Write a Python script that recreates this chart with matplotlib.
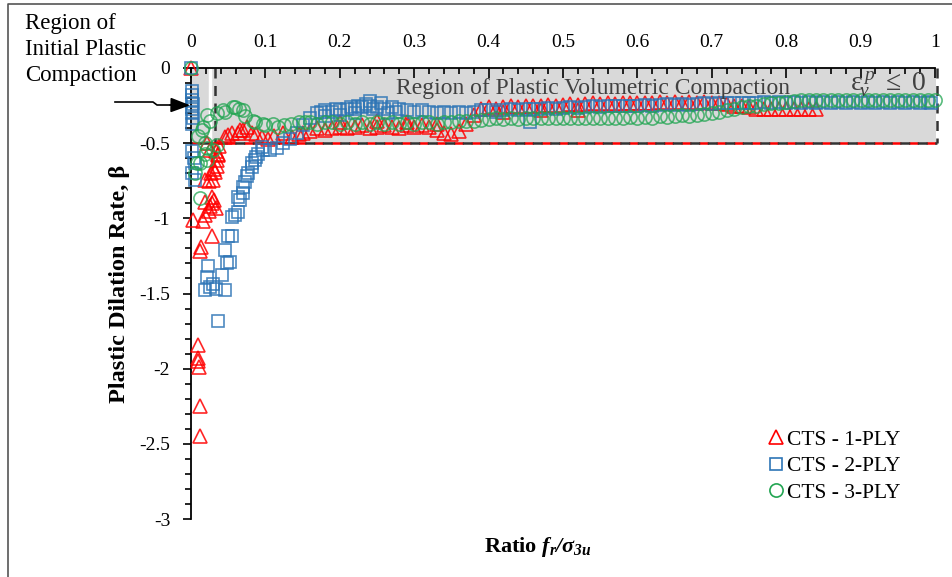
import matplotlib
matplotlib.use('Agg')
import matplotlib.pyplot as plt
from matplotlib.lines import Line2D

plt.rcParams['font.family'] = ['Liberation Serif', 'DejaVu Serif']
plt.rcParams['mathtext.fontset'] = 'custom'
plt.rcParams['mathtext.rm'] = 'Liberation Serif'
plt.rcParams['mathtext.it'] = 'Liberation Serif:italic'
plt.rcParams['mathtext.bf'] = 'Liberation Serif:bold:italic'
plt.rcParams['mathtext.fallback'] = 'stix'

# CTS - 1-PLY (red triangles)
x1 = [0.0, 0.012, 0.012, 0.011, 0.010, 0.010, 0.009,
      0.003, 0.013, 0.012, 0.016, 0.028, 0.019, 0.024,
      0.019, 0.026, 0.028, 0.031, 0.033, 0.028,
      0.019, 0.024, 0.030, 0.027, 0.032, 0.031, 0.035, 0.035, 0.036, 0.026, 0.036, 0.033,
      0.022, 0.038,
      0.046, 0.050, 0.055, 0.063, 0.066, 0.070, 0.075, 0.082, 0.088, 0.095, 0.103, 0.112,
      0.124, 0.136, 0.145,
      0.15, 0.16, 0.17, 0.18, 0.19, 0.20, 0.21, 0.22, 0.23, 0.24, 0.25, 0.26, 0.27, 0.28,
      0.29, 0.30, 0.31, 0.32, 0.33, 0.34, 0.35, 0.36, 0.37, 0.38, 0.39, 0.40, 0.41, 0.42,
      0.43, 0.44, 0.45, 0.46, 0.47, 0.48, 0.49, 0.50, 0.51, 0.52, 0.53, 0.54, 0.55, 0.56,
      0.57, 0.58, 0.59, 0.60, 0.61, 0.62, 0.63, 0.64, 0.65, 0.66, 0.67, 0.68, 0.69, 0.70,
      0.71, 0.72, 0.73, 0.74, 0.75, 0.76, 0.77, 0.78, 0.79, 0.80, 0.81, 0.82, 0.83, 0.84,
      0.20, 0.25, 0.29, 0.33, 0.42, 0.47, 0.52]
y1 = [0.0, -2.45, -2.25, -1.99, -1.95, -1.93, -1.84,
      -1.01, -1.19, -1.22, -1.02, -1.12, -0.98, -0.95,
      -0.89, -0.92, -0.90, -0.88, -0.93, -0.86,
      -0.745, -0.75, -0.745, -0.70, -0.69, -0.67, -0.65, -0.61, -0.58, -0.545, -0.57, -0.55,
      -0.50, -0.52,
      -0.46, -0.445, -0.43, -0.43, -0.41, -0.41, -0.39, -0.43, -0.44, -0.46, -0.47, -0.45,
      -0.43, -0.46, -0.44,
      -0.43, -0.42, -0.40, -0.41, -0.40, -0.39, -0.40, -0.39, -0.38, -0.40, -0.39, -0.38, -0.39, -0.40,
      -0.38, -0.39, -0.38, -0.39, -0.41, -0.43, -0.44, -0.42, -0.37, -0.31, -0.27, -0.26, -0.27, -0.26,
      -0.255, -0.26, -0.25, -0.255, -0.25, -0.245, -0.25, -0.245, -0.24, -0.245, -0.24, -0.235, -0.24, -0.235,
      -0.24, -0.23, -0.235, -0.23, -0.235, -0.23, -0.225, -0.23, -0.225, -0.23, -0.225, -0.23, -0.225, -0.23,
      -0.235, -0.24, -0.25, -0.255, -0.26, -0.27, -0.27, -0.275, -0.275, -0.27, -0.275, -0.27, -0.275, -0.27,
      -0.36, -0.355, -0.36, -0.37, -0.29, -0.28, -0.28]

# CTS - 2-PLY (blue squares)
x2 = [0.0, 0.001, 0.002, 0.001, 0.003, 0.002, 0.001, 0.003, 0.002,
      0.002, 0.005, 0.002, 0.005, 0.004,
      0.023, 0.021, 0.019, 0.026, 0.030, 0.033, 0.042, 0.046, 0.036, 0.052, 0.048, 0.046,
      0.050, 0.055, 0.055, 0.059, 0.063, 0.063, 0.066, 0.070, 0.070, 0.073, 0.075, 0.077,
      0.082, 0.082, 0.086, 0.088, 0.090, 0.095, 0.097, 0.106, 0.116, 0.124, 0.133,
      0.142, 0.151, 0.160, 0.169, 0.175, 0.18, 0.19, 0.195, 0.20, 0.21, 0.215, 0.22, 0.225,
      0.23, 0.235, 0.24, 0.245, 0.25, 0.26, 0.27, 0.28, 0.29, 0.30, 0.31, 0.32, 0.33, 0.34,
      0.35, 0.36, 0.37, 0.38, 0.39, 0.40, 0.41, 0.42, 0.43, 0.44, 0.45, 0.456, 0.46, 0.47,
      0.48, 0.49, 0.50, 0.51, 0.52, 0.53, 0.54, 0.55, 0.56, 0.57, 0.58, 0.59, 0.60, 0.61,
      0.62, 0.63, 0.64, 0.65, 0.66, 0.67, 0.68, 0.69, 0.70, 0.71, 0.72, 0.73, 0.74, 0.75,
      0.76, 0.77, 0.78, 0.79, 0.80, 0.81, 0.82, 0.83, 0.84, 0.85, 0.86, 0.87, 0.88, 0.89,
      0.90, 0.91, 0.92, 0.93, 0.94, 0.95, 0.96, 0.97, 0.98, 0.99, 0.995,
      0.18, 0.20, 0.22, 0.24, 0.255, 0.265, 0.275]
y2 = [0.0, -0.15, -0.18, -0.21, -0.24, -0.27, -0.30, -0.33, -0.37,
      -0.55, -0.63, -0.70, -0.745, -0.60,
      -1.32, -1.39, -1.48, -1.46, -1.44, -1.47, -1.38, -1.48, -1.68, -1.29, -1.30, -1.21,
      -1.12, -1.12, -0.99, -0.98, -0.96, -0.86, -0.88, -0.83, -0.79, -0.76, -0.72, -0.70,
      -0.66, -0.63, -0.61, -0.59, -0.57, -0.525, -0.545, -0.545, -0.53, -0.50, -0.47,
      -0.43, -0.38, -0.33, -0.30, -0.29, -0.28, -0.29, -0.27, -0.28, -0.27, -0.26, -0.27, -0.25,
      -0.26, -0.24, -0.25, -0.27, -0.26, -0.27, -0.26, -0.27, -0.28, -0.29, -0.28, -0.29, -0.30, -0.29,
      -0.30, -0.29, -0.30, -0.29, -0.28, -0.28, -0.29, -0.28, -0.275, -0.28, -0.27, -0.36, -0.275, -0.27,
      -0.265, -0.27, -0.265, -0.26, -0.265, -0.26, -0.255, -0.26, -0.255, -0.25, -0.255, -0.25, -0.25, -0.245,
      -0.25, -0.245, -0.24, -0.245, -0.24, -0.245, -0.24, -0.235, -0.24, -0.235, -0.23, -0.235, -0.23, -0.235,
      -0.23, -0.225, -0.23, -0.225, -0.23, -0.225, -0.23, -0.225, -0.23, -0.225, -0.23, -0.225, -0.23, -0.225,
      -0.23, -0.225, -0.23, -0.225, -0.23, -0.225, -0.23, -0.225, -0.23, -0.225, -0.23,
      -0.32, -0.31, -0.30, -0.22, -0.23, -0.30, -0.29]

# CTS - 3-PLY (green circles)
x3 = [0.0, 0.012, 0.005, 0.008, 0.012, 0.021, 0.019, 0.021, 0.030, 0.035, 0.019, 0.016,
      0.015, 0.010, 0.026, 0.021, 0.035, 0.043, 0.046, 0.056, 0.059, 0.065, 0.070, 0.073,
      0.083, 0.086, 0.097, 0.10, 0.11, 0.117, 0.125, 0.135, 0.145, 0.153,
      0.16, 0.17, 0.18, 0.19, 0.20, 0.21, 0.22, 0.23, 0.24, 0.25, 0.26, 0.27, 0.28, 0.29,
      0.30, 0.31, 0.32, 0.33, 0.34, 0.35, 0.36, 0.37, 0.38, 0.39, 0.40, 0.41, 0.42, 0.43,
      0.44, 0.45, 0.46, 0.47, 0.48, 0.49, 0.50, 0.51, 0.52, 0.53, 0.54, 0.55, 0.56, 0.57,
      0.58, 0.59, 0.60, 0.61, 0.62, 0.63, 0.64, 0.65, 0.66, 0.67, 0.68, 0.69, 0.70, 0.71,
      0.72, 0.73, 0.74, 0.75, 0.76, 0.77, 0.78, 0.79, 0.80, 0.81, 0.82, 0.83, 0.84, 0.85,
      0.86, 0.87, 0.88, 0.89, 0.90, 0.91, 0.92, 0.93, 0.94, 0.95, 0.96, 0.97, 0.98, 0.99, 1.0]
y3 = [0.0, -0.865, -0.70, -0.63, -0.63, -0.61, -0.57, -0.53, -0.545, -0.51, -0.50, -0.39,
      -0.41, -0.45, -0.35, -0.31, -0.30, -0.28, -0.29, -0.26, -0.26, -0.27, -0.28, -0.32,
      -0.35, -0.36, -0.37, -0.38, -0.37, -0.39, -0.38, -0.37, -0.36, -0.36,
      -0.36, -0.37, -0.36, -0.36, -0.37, -0.36, -0.37, -0.36, -0.37, -0.36, -0.37, -0.36, -0.37, -0.36,
      -0.37, -0.36, -0.36, -0.37, -0.36, -0.36, -0.355, -0.35, -0.35, -0.345, -0.34, -0.335, -0.34, -0.335,
      -0.34, -0.335, -0.33, -0.335, -0.33, -0.335, -0.33, -0.335, -0.33, -0.335, -0.33, -0.335, -0.33, -0.335,
      -0.33, -0.325, -0.33, -0.325, -0.33, -0.32, -0.325, -0.32, -0.315, -0.32, -0.31, -0.305, -0.30, -0.29,
      -0.28, -0.27, -0.26, -0.255, -0.25, -0.24, -0.235, -0.23, -0.225, -0.22, -0.215, -0.215, -0.21, -0.21,
      -0.21, -0.215, -0.21, -0.215, -0.21, -0.215, -0.21, -0.215, -0.21, -0.215, -0.21, -0.215, -0.21, -0.215, -0.21]

labels = ['CTS - 1-PLY', 'CTS - 2-PLY', 'CTS - 3-PLY']

W, H = 952, 577
fig = plt.figure(figsize=(W / 100, H / 100), dpi=100)
ax = fig.add_axes([191 / W, 1 - 519 / H, 744 / W, 451 / H])

# shaded compaction region
ax.fill_between([0, 1.003], -0.5, 0, color='#d9d9d9', zorder=0, lw=0)
ax.plot([0.026, 0.026], [0, -0.5], color='white', lw=2.5, zorder=1)
ax.plot([0.032, 0.032], [0, -0.5], color='#333333', lw=1.8, ls=(0, (4, 3)), zorder=1)
ax.plot([1.003, 1.003], [0, -0.5], color='#333333', lw=1.8, ls=(0, (4, 3)), zorder=1, clip_on=False)
ax.plot([0, 1.003], [-0.5, -0.5], color='#ff0000', lw=1.8, ls=(0, (4, 3)), zorder=1, clip_on=False)
ax.plot([0, 1.003], [-0.5, -0.5], color='#333333', lw=1.8, ls=(3.5, (4, 3)), zorder=1, clip_on=False)

ax.plot(x1, y1, ls='none', marker='^', ms=9.5, mfc='none', mec='#ff0000', mew=1.2,
        alpha=0.85, clip_on=False, zorder=3, label=labels[0])
ax.plot(x2, y2, ls='none', marker='s', ms=9, mfc='none', mec='#2e75b6', mew=1.2,
        alpha=0.85, clip_on=False, zorder=4, label=labels[1])
ax.plot(x3, y3, ls='none', marker='o', ms=9.5, mfc='none', mec='#22a552', mew=1.2,
        alpha=0.75, clip_on=False, zorder=5, label=labels[2])

ax.set_xlim(0, 1)
ax.set_ylim(-3, 0)
ax.spines['bottom'].set_visible(False)
ax.spines['right'].set_visible(False)
ax.spines['top'].set_linewidth(1.3)
ax.spines['left'].set_linewidth(1.3)
ax.xaxis.tick_top()
ax.set_xticks([i / 10 for i in range(11)])
ax.set_xticklabels(['0', '0.1', '0.2', '0.3', '0.4', '0.5', '0.6', '0.7', '0.8', '0.9', '1'])
ax.set_xticks([i / 50 for i in range(51)], minor=True)
ax.set_yticks([0, -0.5, -1, -1.5, -2, -2.5, -3])
ax.set_yticklabels(['0', '-0.5', '-1', '-1.5', '-2', '-2.5', '-3'])
ax.set_yticks([-i / 10 for i in range(31)], minor=True)
ax.tick_params(axis='x', which='both', direction='in', top=True, bottom=False,
               labelsize=14, pad=12, width=1.2)
ax.tick_params(axis='x', which='major', length=7)
ax.tick_params(axis='x', which='minor', length=4)
ax.tick_params(axis='y', which='both', direction='out', labelsize=14, pad=9, width=1.2)
ax.tick_params(axis='y', which='major', length=6)
ax.tick_params(axis='y', which='minor', length=4)

ax.text(0.54, -0.135, 'Region of Plastic Volumetric Compaction', fontsize=17,
        color='#404040', ha='center', va='center', zorder=6)
ax.text(0.988, -0.105, r'$\mathrm{\varepsilon}_{\!v}^{\,p}\ \leq\ 0$', fontsize=20,
        color='#404040', ha='right', va='center', zorder=6)

fig.text(120 / W, 1 - 284 / H, 'Plastic Dilation Rate, β', rotation=90, fontsize=17.5,
         fontweight='bold', ha='center', va='center')
fig.text(538 / W, 1 - 547 / H, r'Ratio $\mathbf{f_r/σ_{3u}}$', fontsize=16,
         fontweight='bold', ha='center', va='center')

fig.text(25 / W, 1 - 13 / H, 'Region of\nInitial Plastic\nCompaction', fontsize=16.5,
         ha='left', va='top', linespacing=1.3)
fig.add_artist(Line2D([115 / W, 153 / W, 157 / W, 172 / W],
                      [1 - 102 / H, 1 - 102 / H, 1 - 105 / H, 1 - 105 / H],
                      color='black', lw=1.2))
ax.annotate('', xy=(-0.001, -0.248), xycoords='data',
            xytext=(170 / W, 1 - 105 / H), textcoords='figure fraction',
            annotation_clip=False,
            arrowprops=dict(arrowstyle='-|>,head_length=1.2,head_width=0.45',
                            color='black', lw=1.2, shrinkA=0, shrinkB=0), zorder=7)

# outer frame (only top and left edges are visible)
fig.add_artist(Line2D([8 / W, 8 / W, 1.0], [0.0, 1 - 4 / H, 1 - 4 / H],
                      color='#555555', lw=1.2))

leg = ax.legend(loc='upper left', bbox_to_anchor=(756 / W, 1 - 419 / H),
                bbox_transform=fig.transFigure,
                frameon=False, fontsize=15.5, handletextpad=0.05, handlelength=0.9,
                labelspacing=0.3, borderpad=0)
for h in leg.legend_handles:
    h.set_alpha(1)

fig.savefig('out.png', dpi=100)
